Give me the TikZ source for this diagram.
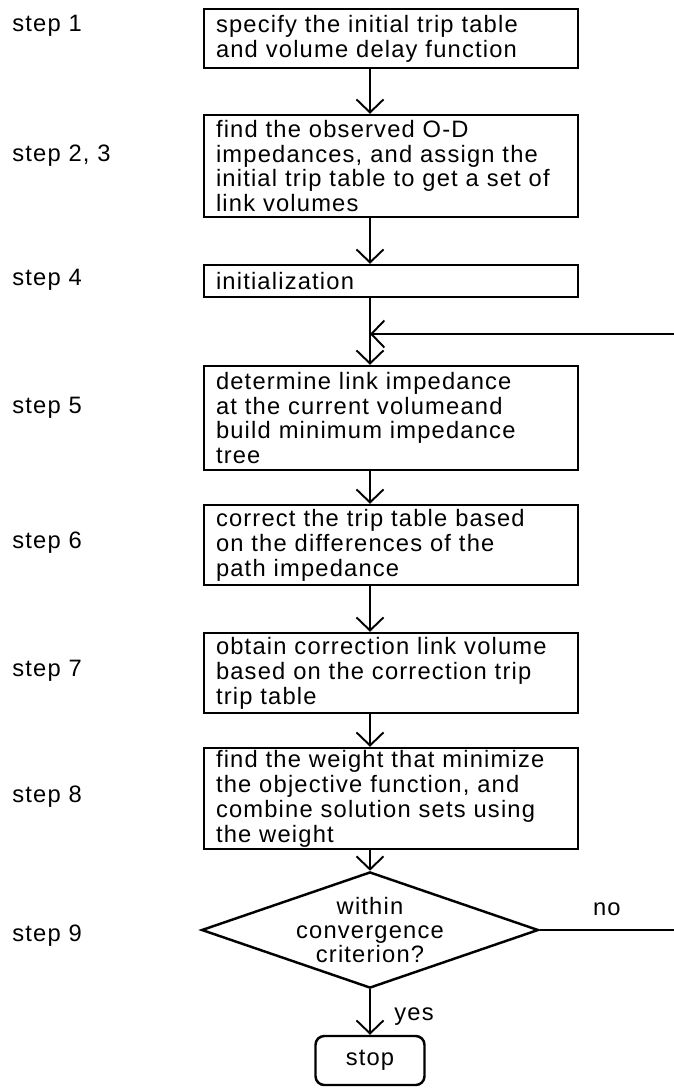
\documentclass[tikz,border=0pt]{standalone}
\usepackage{fontspec}
\setmainfont{Liberation Sans}[LetterSpace=5]
\usetikzlibrary{shapes.geometric,arrows.meta}

\begin{document}
\begin{tikzpicture}[
    font=\fontsize{13.5}{14.2}\selectfont,
    stepbox/.style={draw, line width=1.4pt, text width=7cm, inner xsep=0.24cm, inner ysep=0pt, align=left},
    decision/.style={draw, diamond, aspect=2.9, line width=1.4pt, minimum width=6.6cm, minimum height=2.28cm, inner sep=0pt, align=center, font=\fontsize{13.5}{13.6}\selectfont},
    stopbox/.style={draw, rounded corners=5pt, line width=1.4pt, minimum width=2.18cm, minimum height=0.98cm},
    flow/.style={line width=1.1pt, -{Straight Barb[length=2.6mm,width=5.4mm]}},
    steplabel/.style={anchor=west, inner sep=0pt}
]
    % Fix the frame of the chart
    \useasboundingbox (0,0) rectangle (13.48,-21.76);

    % Define the points of the boxes
    \coordinate (P1) at (7.82,-0.77);
    \coordinate (P23) at (7.82,-3.32);
    \coordinate (P4) at (7.82,-5.62);
    \coordinate (P5) at (7.82,-8.36);
    \coordinate (P6) at (7.82,-10.9);
    \coordinate (P7) at (7.82,-13.46);
    \coordinate (P8) at (7.82,-15.97);
    \coordinate (P9) at (7.4,-18.6);
    \coordinate (PS) at (7.4,-21.21);

    % Draw the boxes
    \node[stepbox, minimum height=1.18cm] (s1) at (P1) {specify the initial trip table\\and volume delay function};
    \node[stepbox, minimum height=2.04cm] (s23) at (P23) {find the observed O-D\\impedances, and assign the\\initial trip table to get a set of\\link volumes};
    \node[stepbox, minimum height=0.64cm] (s4) at (P4) {initialization};
    \node[stepbox, minimum height=2.08cm] (s5) at (P5) {determine link impedance\\at the current volumeand\\build minimum impedance\\tree};
    \node[stepbox, minimum height=1.6cm] (s6) at (P6) {correct the trip table based\\on the differences of the\\path impedance};
    \node[stepbox, minimum height=1.6cm] (s7) at (P7) {obtain correction link volume\\based on the correction trip\\trip table};
    \node[stepbox, minimum height=2.02cm] (s8) at (P8) {find the weight that minimize\\the objective function, and\\combine solution sets using\\the weight};
    \node[decision] (dec) at (P9) {within\\convergence\\criterion?};
    \node[stopbox] (stop) at (PS) {stop};

    % Place the step labels
    \node[steplabel] (l1) at (0.24,-0.52) {step 1};
    \node[steplabel] (l23) at (0.24,-3.12) {step 2, 3};
    \node[steplabel] (l4) at (0.24,-5.6) {step 4};
    \node[steplabel] (l5) at (0.24,-8.16) {step 5};
    \node[steplabel] (l6) at (0.24,-10.86) {step 6};
    \node[steplabel] (l7) at (0.24,-13.42) {step 7};
    \node[steplabel] (l8) at (0.24,-15.94) {step 8};
    \node[steplabel] (l9) at (0.24,-18.72) {step 9};

    % Draw the flow
    \draw[flow] (s1.south -| dec.north) -- (s23.north -| dec.north);
    \draw[flow] (s23.south -| dec.north) -- (s4.north -| dec.north);
    \draw[flow] (s4.south -| dec.north) -- (s5.north -| dec.north);
    \draw[flow] (s5.south -| dec.north) -- (s6.north -| dec.north);
    \draw[flow] (s6.south -| dec.north) -- (s7.north -| dec.north);
    \draw[flow] (s7.south -| dec.north) -- (s8.north -| dec.north);
    \draw[flow] (s8.south -| dec.north) -- (dec.north);
    \draw[flow] (dec.south) -- (stop.north) node[pos=0.6, right=10pt] {yes};

    % Draw the loop back
    \coordinate (back) at (13.48,-6.68);
    \coordinate (noend) at (13.48,-18.6);
    \draw[flow] (back) -- (back -| dec.north);
    \draw[line width=1.1pt] (dec.east) -- (noend) node[midway, above=4pt] {no};

\end{tikzpicture}
\end{document}
